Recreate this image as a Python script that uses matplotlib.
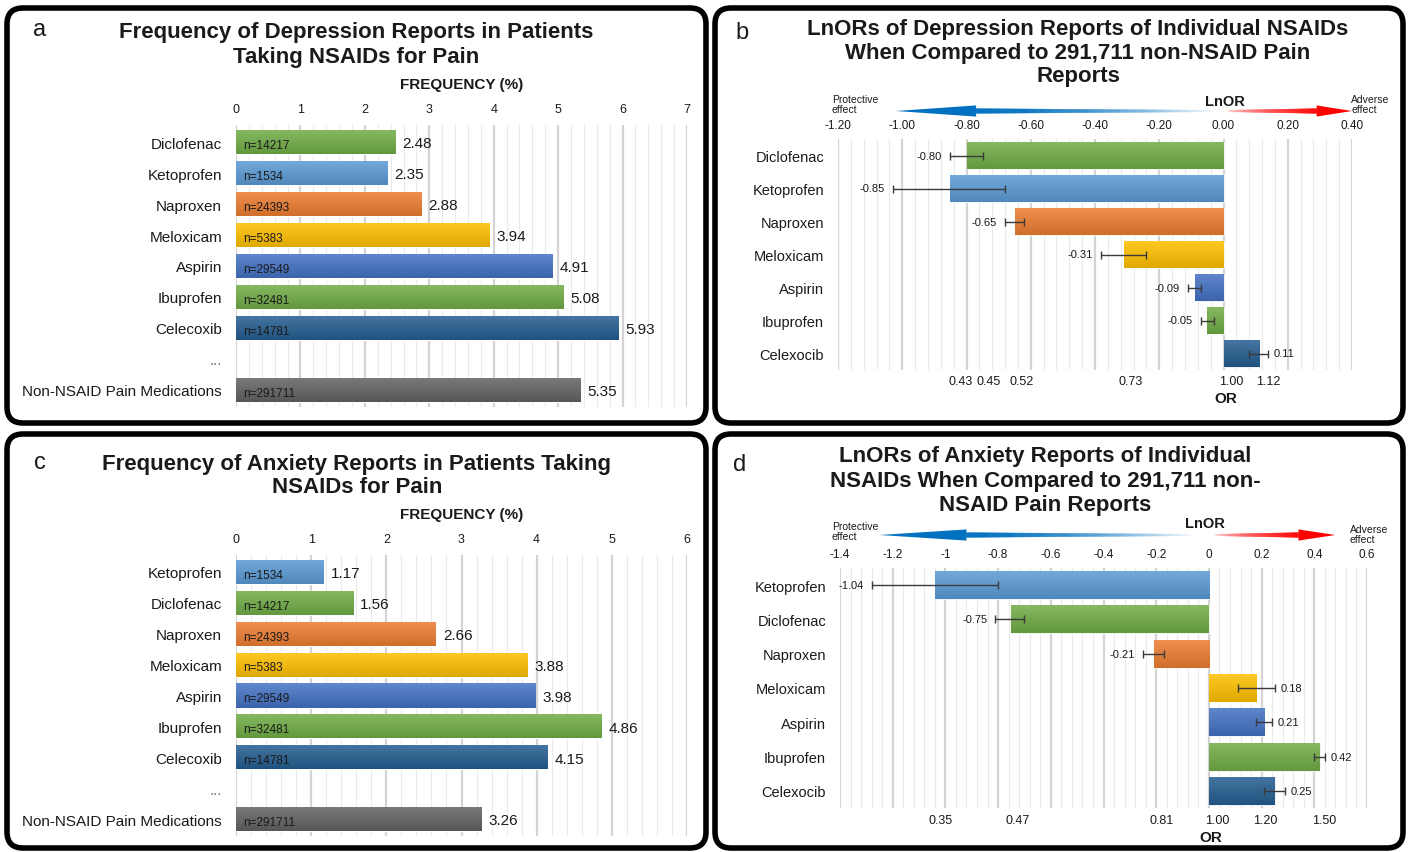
import numpy as np
import matplotlib
matplotlib.use("Agg")
import matplotlib.pyplot as plt
import matplotlib.transforms as mtransforms
from matplotlib.patches import FancyBboxPatch, Polygon
from matplotlib.collections import PolyCollection
from matplotlib.colors import to_rgb
from matplotlib.ticker import MultipleLocator, FuncFormatter

plt.rcParams['font.family'] = ['Liberation Sans', 'DejaVu Sans']

W, H = 1408, 853

# ---------------- datos ----------------
# a) frecuencia de reportes de depresion (%)
dep_drugs = ['Diclofenac', 'Ketoprofen', 'Naproxen', 'Meloxicam', 'Aspirin', 'Ibuprofen', 'Celecoxib']
dep_freq = [2.48, 2.35, 2.88, 3.94, 4.91, 5.08, 5.93]
dep_n = [14217, 1534, 24393, 5383, 29549, 32481, 14781]
dep_ref_freq = 5.35

# c) frecuencia de reportes de ansiedad (%)
anx_drugs = ['Ketoprofen', 'Diclofenac', 'Naproxen', 'Meloxicam', 'Aspirin', 'Ibuprofen', 'Celecoxib']
anx_freq = [1.17, 1.56, 2.66, 3.88, 3.98, 4.86, 4.15]
anx_n = [1534, 14217, 24393, 5383, 29549, 32481, 14781]
anx_ref_freq = 3.26

ref_label = 'Non-NSAID Pain Medications'
ref_n = 291711

# b) LnOR depresion
dep_or_drugs = ['Diclofenac', 'Ketoprofen', 'Naproxen', 'Meloxicam', 'Aspirin', 'Ibuprofen', 'Celexocib']
dep_lnor = [-0.80, -0.85, -0.65, -0.31, -0.09, -0.05, 0.11]
dep_ci_lo = [-0.85, -1.03, -0.68, -0.38, -0.11, -0.07, 0.08]
dep_ci_hi = [-0.75, -0.68, -0.62, -0.24, -0.07, -0.03, 0.14]
dep_or_labels = [0.43, 0.45, 0.52, 0.73, 1.00, 1.12]

# d) LnOR ansiedad
anx_or_drugs = ['Ketoprofen', 'Diclofenac', 'Naproxen', 'Meloxicam', 'Aspirin', 'Ibuprofen', 'Celexocib']
anx_lnor = [-1.04, -0.75, -0.21, 0.18, 0.21, 0.42, 0.25]
anx_ci_lo = [-1.28, -0.81, -0.25, 0.11, 0.18, 0.40, 0.21]
anx_ci_hi = [-0.80, -0.70, -0.17, 0.25, 0.24, 0.44, 0.29]
anx_or_labels = [0.35, 0.47, 0.81, 1.00, 1.20, 1.50]

# colores por farmaco
colors = {
    'Diclofenac': '#70AD47', 'Ketoprofen': '#5B9BD5', 'Naproxen': '#ED7D31',
    'Meloxicam': '#FFC000', 'Aspirin': '#4472C4', 'Ibuprofen': '#70AD47',
    'Celecoxib': '#255E91', 'Celexocib': '#255E91', ref_label: '#636363',
}

TXT = '#1a1a1a'

fig = plt.figure(figsize=(W / 100, H / 100), dpi=100)

# eje de fondo en pixeles para marcos y textos
bg = fig.add_axes([0, 0, 1, 1], zorder=0)
bg.set_xlim(0, W)
bg.set_ylim(H, 0)
bg.axis('off')


def px_axes(x0, y0, x1, y1, **kw):
    return fig.add_axes([x0 / W, 1 - y1 / H, (x1 - x0) / W, (y1 - y0) / H], **kw)


def frame(x0, y0, x1, y1):
    bg.add_patch(FancyBboxPatch((x0, y0), x1 - x0, y1 - y0,
                                boxstyle='round,pad=0,rounding_size=16',
                                fc='none', ec='black', lw=4.0))


def style_axes(ax, major, minor):
    for s in ax.spines.values():
        s.set_visible(False)
    ax.xaxis.set_major_locator(MultipleLocator(major))
    ax.xaxis.set_minor_locator(MultipleLocator(minor))
    ax.grid(axis='x', which='major', color='#D4D4D4', lw=1.6)
    ax.grid(axis='x', which='minor', color='#EAEAEA', lw=0.8)
    ax.set_axisbelow(True)
    ax.xaxis.tick_top()
    ax.tick_params(axis='both', which='both', length=0)
    ax.patch.set_alpha(0)


def gradient_bars(ax, bars):
    # degradado vertical: claro arriba, oscuro abajo (estilo Excel)
    t = np.linspace(0, 1, 32)[:, None, None]
    for p in bars:
        c = np.array(to_rgb(p.get_facecolor()))
        top = c + (1 - c) * 0.15
        bot = c * 0.88
        img = (1 - t) * top + t * bot
        x0, y0 = p.get_x(), p.get_y()
        w, h = p.get_width(), p.get_height()
        im = ax.imshow(img, extent=[x0, x0 + w, y0 + h, y0], aspect='auto',
                       interpolation='bilinear', zorder=3.1)
        im.set_clip_path(p)


# ---------------- paneles de frecuencia ----------------
def freq_panel(box, drugs, freq, n, ref_freq, xmax):
    ax = px_axes(*box)
    cats = drugs + ['...', ref_label]
    vals = list(freq) + [ref_freq]
    ns = list(n) + [ref_n]
    ypos = list(range(len(drugs))) + [len(cats) - 1]
    cols = [colors[d] for d in drugs] + [colors[ref_label]]
    bars = ax.barh(ypos, vals, height=0.78, color=cols, edgecolor='white', lw=0.8, zorder=3)
    gradient_bars(ax, bars)
    for y, v, nn in zip(ypos, vals, ns):
        ax.annotate(f'{v:.2f}', (v, y), xytext=(5, -1), textcoords='offset points',
                    ha='left', va='center', fontsize=11, color=TXT)
        ax.annotate(f'n={nn}', (0, y), xytext=(5, -2), textcoords='offset points',
                    ha='left', va='center', fontsize=8.5, color=TXT, zorder=5)
    ax.set_yticks(range(len(cats)))
    ax.set_yticklabels(cats, fontsize=11, color=TXT)
    ax.get_yticklabels()[len(drugs)].set_color('#777777')
    ax.set_xlim(0, xmax)
    ax.set_ylim(len(cats) - 0.45, -0.55)
    style_axes(ax, 1, 0.2)
    ax.tick_params(axis='x', labelsize=9, labelcolor=TXT, pad=7)
    ax.tick_params(axis='y', pad=10)
    return ax


freq_panel((236, 126, 687, 408), dep_drugs, dep_freq, dep_n, dep_ref_freq, 7)
freq_panel((236, 556, 687, 837), anx_drugs, anx_freq, anx_n, anx_ref_freq, 6)


# ---------------- flechas de efecto ----------------
def shaft(ax, xa, xb, wa, wb, ca, cb, gamma, n=120):
    xs = np.linspace(xa, xb, n + 1)
    ws = np.linspace(wa, wb, n + 1)
    polys = [[(xs[i], -ws[i]), (xs[i + 1], -ws[i + 1]), (xs[i + 1], ws[i + 1]), (xs[i], ws[i])]
             for i in range(n)]
    t = np.linspace(0, 1, n) ** gamma
    c0, c1 = np.array(to_rgb(ca)), np.array(to_rgb(cb))
    cols = [(1 - ti) * c0 + ti * c1 for ti in t]
    ax.add_collection(PolyCollection(polys, facecolors=cols, edgecolors=cols, linewidths=0.3))


def effect_arrows(main_ax, band, blue, red):
    aax = px_axes(*band, sharex=main_ax)
    aax.set_ylim(-1, 1)
    aax.axis('off')
    b_tip, b_base, b_end = blue
    r_start, r_base, r_tip = red
    shaft(aax, b_base, b_end, 0.26, 0.08, '#0070C0', '#FFFFFF', 1.8)
    aax.add_patch(Polygon([(b_tip, 0), (b_base, 0.62), (b_base, -0.62)], closed=True,
                          fc='#0070C0', ec='none'))
    shaft(aax, r_start, r_base, 0.08, 0.26, '#FFFFFF', '#FF0000', 0.5)
    aax.add_patch(Polygon([(r_tip, 0), (r_base, 0.62), (r_base, -0.62)], closed=True,
                          fc='#FF0000', ec='none'))


# ---------------- paneles LnOR ----------------
def lnor_panel(box, drugs, lnor, lo, hi, or_labels, xlim, fmt, or_dy):
    ax = px_axes(*box)
    y = np.arange(len(drugs))
    lnor = np.array(lnor)
    lo = np.array(lo)
    hi = np.array(hi)
    bars = ax.barh(y, lnor, height=0.82, color=[colors[d] for d in drugs],
                   edgecolor='white', lw=0.6, zorder=3)
    gradient_bars(ax, bars)
    ax.errorbar(lnor, y, xerr=[lnor - lo, hi - lnor], fmt='none', ecolor='#3a3a3a',
                elinewidth=1.0, capsize=3, capthick=1.0, zorder=4)
    for yi, v, l, h in zip(y, lnor, lo, hi):
        if v < 0:
            ax.annotate(f'{v:.2f}', (l, yi), xytext=(-6, 0), textcoords='offset points',
                        ha='right', va='center', fontsize=8, color=TXT)
        else:
            ax.annotate(f'{v:.2f}', (h, yi), xytext=(4, 0), textcoords='offset points',
                        ha='left', va='center', fontsize=8, color=TXT)
    ax.set_yticks(y)
    ax.set_yticklabels(drugs, fontsize=10.5, color=TXT)
    ax.set_xlim(*xlim)
    ax.set_ylim(len(drugs) - 0.5, -0.5)
    style_axes(ax, 0.2, 0.04)
    ax.xaxis.set_major_formatter(fmt)
    ax.tick_params(axis='x', labelsize=8.5, labelcolor=TXT, pad=6)
    ax.tick_params(axis='y', pad=10)

    # etiquetas OR debajo del eje (separadas si se solapan)
    trans = mtransforms.blended_transform_factory(ax.transData, ax.transAxes)
    px_per_unit = ax.transData.transform((1, 0))[0] - ax.transData.transform((0, 0))[0]
    off = 8 / px_per_unit
    gap = 28 / px_per_unit
    prev = -np.inf
    for o in or_labels:
        xp = max(np.log(o) + off, prev + gap)
        prev = xp
        ax.annotate(f'{o:.2f}', (xp, 0), xycoords=trans, xytext=(0, -or_dy),
                    textcoords='offset pixels', ha='center', va='center',
                    fontsize=9, color=TXT, annotation_clip=False)
    ax.annotate('OR', (0, 0), xycoords=trans, xytext=(2, -or_dy - 17),
                textcoords='offset pixels', ha='center', va='center',
                fontsize=11, fontweight='bold', color=TXT, annotation_clip=False)
    return ax


def fmt2(v, pos):
    return f'{v:.2f}'


def fmt_gen(v, pos):
    s = f'{v:.1f}'.rstrip('0').rstrip('.')
    return '0' if s in ('-0', '0') else s


ax_b = lnor_panel((838, 140, 1352, 371), dep_or_drugs, dep_lnor, dep_ci_lo, dep_ci_hi,
                  dep_or_labels, (-1.2, 0.4), FuncFormatter(fmt2), 11)
effect_arrows(ax_b, (838, 103, 1352, 121), (-1.02, -0.77, -0.01), (0.01, 0.29, 0.40))

ax_d = lnor_panel((840, 569, 1367, 809), anx_or_drugs, anx_lnor, anx_ci_lo, anx_ci_hi,
                  anx_or_labels, (-1.4, 0.6), FuncFormatter(fmt_gen), 12)
effect_arrows(ax_d, (840, 527, 1367, 545), (-1.25, -0.92, -0.04), (0.02, 0.34, 0.48))

# ---------------- marcos, titulos y textos ----------------
frame(7, 9, 706, 424)
frame(715, 9, 1403, 424)
frame(7, 435, 706, 849)
frame(715, 435, 1403, 849)

title_kw = dict(ha='center', va='center', fontsize=16, fontweight='bold', color=TXT)
bg.text(356, 45, 'Frequency of Depression Reports in Patients\nTaking NSAIDs for Pain',
        linespacing=1.2, **title_kw)
bg.text(1078, 53, 'LnORs of Depression Reports of Individual NSAIDs\n'
        'When Compared to 291,711 non-NSAID Pain\nReports', linespacing=1.18, **title_kw)
bg.text(357, 476, 'Frequency of Anxiety Reports in Patients Taking\nNSAIDs for Pain',
        linespacing=1.15, **title_kw)
bg.text(1045, 481, 'LnORs of Anxiety Reports of Individual\n'
        'NSAIDs When Compared to 291,711 non-\nNSAID Pain Reports', linespacing=1.2, **title_kw)

for (x, y), letter in zip([(40, 30), (742, 33), (40, 463), (740, 465)], 'abcd'):
    bg.text(x, y, letter, ha='center', va='center', fontsize=17, color=TXT)

bg.text(462, 85, 'FREQUENCY (%)', ha='center', va='center', fontsize=11,
        fontweight='bold', color=TXT)
bg.text(462, 515, 'FREQUENCY (%)', ha='center', va='center', fontsize=11,
        fontweight='bold', color=TXT)

bg.text(1225, 102, 'LnOR', ha='center', va='center', fontsize=10.5, fontweight='bold', color=TXT)
bg.text(1205, 524, 'LnOR', ha='center', va='center', fontsize=10.5, fontweight='bold', color=TXT)
small_kw = dict(ha='left', va='center', fontsize=7.5, color=TXT, linespacing=1.1)
bg.text(832, 105, 'Protective\neffect', **small_kw)
bg.text(1351, 105, 'Adverse\neffect', **small_kw)
bg.text(832, 532, 'Protective\neffect', **small_kw)
bg.text(1350, 535, 'Adverse\neffect', **small_kw)

fig.savefig('out.png', dpi=100)
